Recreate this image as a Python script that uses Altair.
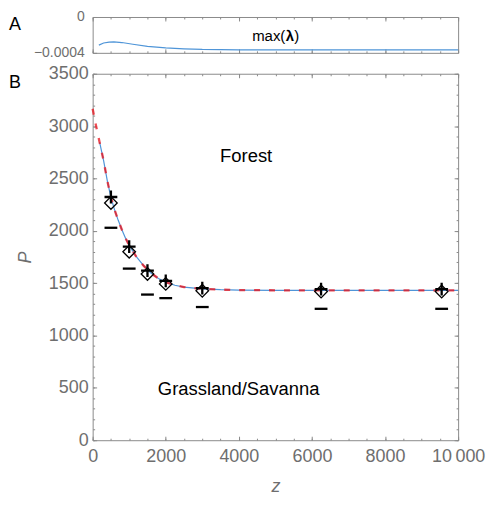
import altair as alt
import pandas as pd

# ---------------- data ----------------
# Panel A: max(lambda) against z
lam_z = [170, 300, 450, 580, 800, 1100, 1500, 2000, 2500, 3000, 4000, 5000, 6000, 8000, 10000]
lam_v = [-3.14e-4, -2.90e-4, -2.80e-4, -2.78e-4, -2.85e-4, -3.04e-4, -3.28e-4, -3.44e-4,
         -3.55e-4, -3.62e-4, -3.66e-4, -3.67e-4, -3.67e-4, -3.67e-4, -3.67e-4]

# Panel B: threshold curve (red dashed) and its blue counterpart
red_z = [0, 100, 200, 300, 400, 500, 600, 700, 800, 900, 1000, 1200, 1400, 1600, 1800,
         2000, 2250, 2500, 3000, 3500, 4000, 5000, 6000, 7000, 8000, 9000, 10000]
red_p = [3165, 2990, 2830, 2670, 2480, 2320, 2200, 2100, 2010, 1930, 1860, 1750, 1665, 1595, 1545,
         1510, 1480, 1463, 1446, 1438, 1434, 1432, 1431, 1431, 1431, 1431, 1431]
blue_z = [190, 300, 400, 500, 600, 700, 800, 900, 1000, 1200, 1400, 1600, 1800,
          2000, 2250, 2500, 3000, 3500, 4000, 5000, 6000, 7000, 8000, 9000, 10000]
blue_p = [2846, 2670, 2480, 2320, 2200, 2100, 2010, 1930, 1860, 1750, 1665, 1595, 1545,
          1510, 1480, 1463, 1446, 1438, 1434, 1432, 1431, 1431, 1431, 1431, 1431]

# observed points
obs_z = [500, 1000, 1500, 2000, 3000, 6250, 9550]
diamond_p = [2266, 1800, 1588, 1493, 1427, 1420, 1420]
plus_p = [2323, 1848, 1620, 1522, 1452, 1443, 1443]
minus_p = [2029, 1639, 1391, 1357, 1272, 1255, 1255]

region_text = ["Forest", "Grassland/Savanna"]
region_z = [4200, 3995]
region_p = [2711, 492]

x_major = [0, 2000, 4000, 6000, 8000, 10000]
x_minor = list(range(0, 10001, 500))
y_major = list(range(0, 3501, 500))
y_minor = list(range(0, 3501, 100))

# ---------------- styling ----------------
FONT = "Liberation Sans"
FRAME = "#8a8a8a"
LABEL = "#6e6e6e"
BLUE = "#4f95d8"
RED = "#e8101a"
W, H_TOP, H_MAIN = 367, 36, 368


def tax(orient, values, size, **kw):
    d = dict(orient=orient, values=values, tickSize={"expr": str(-size)}, labels=False,
             title=None, domain=False, grid=False, tickColor=FRAME, tickWidth=1)
    d.update(kw)
    return alt.Axis(**d)


xs = alt.Scale(domain=[0, 10000], nice=False, zero=False)
ys = alt.Scale(domain=[0, 3500], nice=False, zero=False)
ys_top = alt.Scale(domain=[-0.0004, 0], nice=False, zero=False)

# ---------------- panel A ----------------
df_lam = pd.DataFrame({"z": lam_z, "v": lam_v})
lam_line = alt.Chart(df_lam).mark_line(color=BLUE, strokeWidth=1.2).encode(
    x=alt.X("z:Q", scale=xs, axis=tax("bottom", x_major, 4)),
    y=alt.Y("v:Q", scale=ys_top, axis=tax(
        "left", [-0.0004, 0], 4, labels=True, labelFontSize=14, labelPadding=12.5,
        labelExpr="datum.value == 0 ? '0' : '\u22120.0004'")),
)

lab_df = pd.DataFrame({"z": [5000], "v": [-0.000211]})
t1 = alt.Chart(lab_df).mark_text(text="max(", font=FONT, fontSize=15, align="right",
                                 baseline="middle", dx=10, color="black").encode(
    x=alt.X("z:Q", scale=xs, axis=tax("bottom", x_minor, 2)),
    y=alt.Y("v:Q", scale=ys_top, axis=None))
t2 = alt.Chart(lab_df).mark_text(text="\u03bb", font=FONT, fontSize=15, fontWeight="bold",
                                 align="left", baseline="middle", dx=10.5, color="black").encode(
    x=alt.X("z:Q", scale=xs, axis=tax("top", x_major, 4)),
    y=alt.Y("v:Q", scale=ys_top, axis=None))
t3 = alt.Chart(lab_df).mark_text(text=")", font=FONT, fontSize=15, align="left",
                                 baseline="middle", dx=19, color="black").encode(
    x=alt.X("z:Q", scale=xs, axis=tax("top", x_minor, 2)),
    y=alt.Y("v:Q", scale=ys_top, axis=None))
tagA = alt.Chart(pd.DataFrame({"t": ["A"]})).mark_text(
    font=FONT, fontSize=18, align="left", baseline="middle", color="black").encode(
    text="t:N", x=alt.value(-84), y=alt.value(8))

top = alt.layer(lam_line, t1, t2, t3, tagA).properties(width=W, height=H_TOP).resolve_axis(
    x="independent", y="independent")

# ---------------- panel B ----------------
df_blue = pd.DataFrame({"z": blue_z, "P": blue_p})
df_red = pd.DataFrame({"z": red_z, "P": red_p})
df_obs = pd.DataFrame({"z": obs_z, "d": diamond_p, "p": plus_p, "m": minus_p})
df_reg = pd.DataFrame({"t": region_text, "z": region_z, "P": region_p})

blue_line = alt.Chart(df_blue).mark_line(color=BLUE, strokeWidth=1.2).encode(
    x=alt.X("z:Q", scale=xs, axis=tax(
        "bottom", x_major, 4, labels=True, labelFontSize=18, labelPadding=11, labelFlush=False,
        format="d", labelExpr="datum.value == 10000 ? '10\u2009000' : datum.label",
        title="z", titleFontSize=18, titleFontStyle="italic", titlePadding=13)),
    y=alt.Y("P:Q", scale=ys, axis=tax(
        "left", y_major, 4, labels=True, labelFontSize=18, labelPadding=8.5, format="d",
        title="P", titleFontSize=18, titleFontStyle="italic", titlePadding=14)),
)
red_line = alt.Chart(df_red).mark_line(color=RED, strokeWidth=2.3, strokeDash=[6, 9],
                                       opacity=0.75).encode(
    x=alt.X("z:Q", scale=xs, axis=tax("bottom", x_minor, 2)),
    y=alt.Y("P:Q", scale=ys, axis=tax("left", y_minor, 2)),
)
diamonds = alt.Chart(df_obs).mark_point(shape="diamond", size=160, filled=False,
                                        color="black", strokeWidth=1.3, opacity=1).encode(
    x=alt.X("z:Q", scale=xs, axis=tax("top", x_major, 4)),
    y=alt.Y("d:Q", scale=ys, axis=tax("right", y_major, 4)),
)
pluses = alt.Chart(df_obs).mark_point(shape="M-1,0H1M0,-1V1", size=165, filled=False,
                                      color="black", strokeWidth=2.3, opacity=1).encode(
    x=alt.X("z:Q", scale=xs, axis=tax("top", x_minor, 2)),
    y=alt.Y("p:Q", scale=ys, axis=tax("right", y_minor, 2)),
)
minuses = alt.Chart(df_obs).mark_point(shape="M-1,0H1", size=165, filled=False,
                                       color="black", strokeWidth=2.3, opacity=1).encode(
    x=alt.X("z:Q", scale=xs, axis=None),
    y=alt.Y("m:Q", scale=ys, axis=None),
)
regions = alt.Chart(df_reg).mark_text(font=FONT, fontSize=18.5, color="black",
                                      align="center", baseline="middle").encode(
    x=alt.X("z:Q", scale=xs, axis=None),
    y=alt.Y("P:Q", scale=ys, axis=None),
    text="t:N",
)
tagB = alt.Chart(pd.DataFrame({"t": ["B"]})).mark_text(
    font=FONT, fontSize=18, align="left", baseline="middle", color="black").encode(
    text="t:N", x=alt.value(-84), y=alt.value(9.5))

main = alt.layer(blue_line, red_line, diamonds, pluses, minuses, regions, tagB).properties(
    width=W, height=H_MAIN).resolve_axis(x="independent", y="independent")

chart = alt.vconcat(top, main, spacing=21, bounds="flush").properties(
    padding=0
).configure_view(stroke=FRAME, strokeWidth=1).configure_axis(
    labelFont=FONT, labelColor=LABEL, titleFont=FONT, titleColor=LABEL,
    titleFontWeight="normal", grid=False
)

chart.save("out.html", embed_options={"renderer": "svg", "actions": False})
